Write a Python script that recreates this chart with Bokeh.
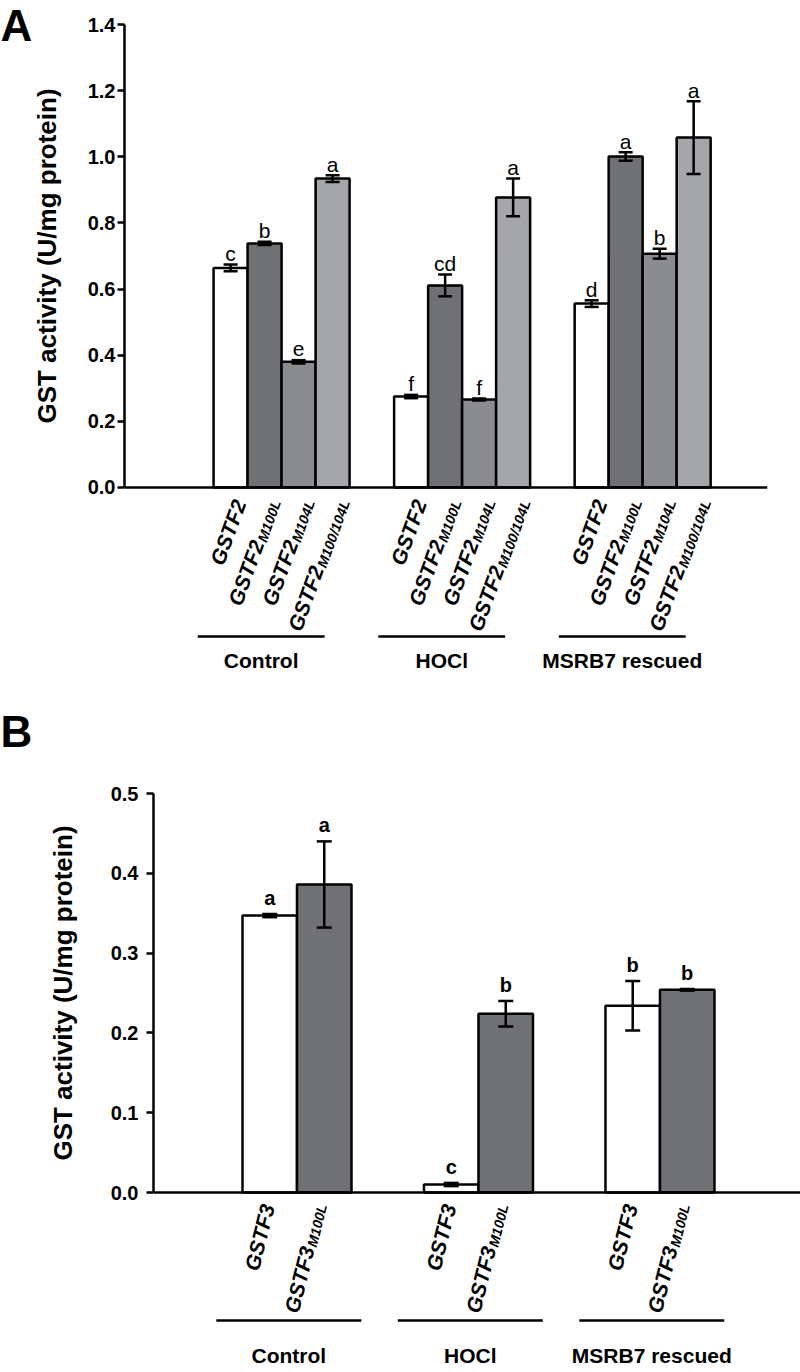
import math
from bokeh.plotting import figure
from bokeh.layouts import column, row
from bokeh.models import FixedTicker, Span, NumeralTickFormatter, Range1d
from bokeh.core.properties import value
from bokeh.embed import file_html
from bokeh.resources import INLINE

# ---------------- data ----------------
groups = ["Control", "HOCl", "MSRB7 rescued"]

# Panel A : GSTF2 variants
a_base = "GSTF2"
a_subscripts = ["", "M100L", "M104L", "M100/104L"]
a_control = [0.664, 0.738, 0.380, 0.934]
a_hocl = [0.275, 0.611, 0.266, 0.877]
a_msrb7 = [0.556, 1.001, 0.707, 1.058]
a_control_err = [0.010, 0.005, 0.005, 0.010]
a_hocl_err = [0.005, 0.033, 0.003, 0.057]
a_msrb7_err = [0.010, 0.013, 0.015, 0.110]
a_control_letters = ["c", "b", "e", "a"]
a_hocl_letters = ["f", "cd", "f", "a"]
a_msrb7_letters = ["d", "a", "b", "a"]
a_yticks = [0.0, 0.2, 0.4, 0.6, 0.8, 1.0, 1.2, 1.4]

# Panel B : GSTF3 variants
b_base = "GSTF3"
b_subscripts = ["", "M100L"]
b_control = [0.347, 0.386]
b_hocl = [0.010, 0.224]
b_msrb7 = [0.234, 0.254]
b_control_err = [0.002, 0.054]
b_hocl_err = [0.002, 0.016]
b_msrb7_err = [0.031, 0.001]
b_control_letters = ["a", "a"]
b_hocl_letters = ["c", "b"]
b_msrb7_letters = ["b", "b"]
b_yticks = [0.0, 0.1, 0.2, 0.3, 0.4, 0.5]

y_title = "GST activity (U/mg protein)"
a_colors = ["#ffffff", "#707175", "#8b8c8f", "#a5a6a9"]
b_colors = ["#ffffff", "#707175"]

FONT = "Liberation Sans"
WIDTHS = {"G": 778, "S": 667, "T": 611, "F": 611, "M": 833, "L": 611, "/": 278}


def text_width(s, size):
    return sum(WIDTHS.get(ch, 556) for ch in s) / 1000.0 * size


def y_range_for(yticks, cfg):
    y_end = yticks[-1] + cfg["top_pad"] / cfg["pxy"]
    return y_end - cfg["frame_h"] / cfg["pxy"], y_end


def side_strip(letter, yticks, cfg):
    y0, y1 = y_range_for(yticks, cfg)
    w = cfg["strip_w"]
    s = figure(frame_width=w, frame_height=cfg["frame_h"], x_range=Range1d(0, w),
               y_range=Range1d(y0, y1), min_border=0,
               x_axis_location=None, y_axis_location=None,
               toolbar_location=None, output_backend="svg")
    s.outline_line_color = None
    s.grid.visible = False
    # panel letter
    s.text(x=[0], y=[y1 - cfg["letter_dy"] / cfg["pxy"]], text=[letter],
           text_align="left", text_baseline="top",
           text_font=value(FONT), text_font_style="bold", text_font_size="44px",
           text_color="black")
    # y-axis title, centred on the axis extent
    s.text(x=[cfg["title_x"]], y=[(yticks[0] + yticks[-1]) / 2.0], text=[y_title],
           angle=math.pi / 2, text_align="center", text_baseline="middle",
           text_font=value(FONT), text_font_style="bold", text_font_size="26px",
           text_color="black")
    return s


def make_panel(vals, errs, lets, colors, base, subs, yticks, cfg):
    pxx, pxy = cfg["pxx"], cfg["pxy"]
    fw, fh = cfg["frame_w"], cfg["frame_h"]
    y0, y1 = y_range_for(yticks, cfg)
    p = figure(frame_width=fw, frame_height=fh,
               min_border_left=cfg["left"], min_border_right=cfg["right"],
               min_border_top=0, min_border_bottom=0,
               x_range=(0, fw / pxx), y_range=(y0, y1),
               x_axis_location=None, toolbar_location=None,
               output_backend="svg")
    p.outline_line_color = None
    p.grid.visible = False

    ax = p.yaxis[0]
    ax.bounds = (yticks[0], yticks[-1])
    ax.ticker = FixedTicker(ticks=yticks)
    ax.formatter = NumeralTickFormatter(format="0.0")
    ax.minor_tick_line_color = None
    ax.major_tick_in = 0
    ax.major_tick_out = cfg["tick_out"]
    ax.axis_line_width = 2.5
    ax.major_tick_line_width = 2.5
    ax.major_label_standoff = cfg["standoff"]
    ax.major_label_text_font = FONT
    ax.major_label_text_font_style = "bold"
    ax.major_label_text_font_size = "20px"
    ax.major_label_text_color = "black"

    p.add_layout(Span(location=0, dimension="width", line_color="black", line_width=2.5))

    n = len(colors)
    theta = math.radians(cfg["angle"])
    d = (math.cos(theta), -math.sin(theta))
    nv = (math.sin(theta), math.cos(theta))
    for g, gname in enumerate(groups):
        start = cfg["g0"] + g * cfg["gstep"]
        centers = [start + i + 0.5 for i in range(n)]
        v, e = vals[g], errs[g]
        p.vbar(x=centers, top=v, bottom=0, width=1, fill_color=colors,
               line_color="black", line_width=2.5)
        lo = [a - b for a, b in zip(v, e)]
        hi = [a + b for a, b in zip(v, e)]
        p.segment(x0=centers, y0=lo, x1=centers, y1=hi, line_color="black", line_width=2.5)
        cap = cfg["cap"] / pxx
        for yy in (lo, hi):
            p.segment(x0=[c - cap for c in centers], y0=yy,
                      x1=[c + cap for c in centers], y1=yy,
                      line_color="black", line_width=2.5)
        p.text(x=centers, y=[h + cfg["let_gap"] / pxy for h in hi], text=lets[g],
               text_align="center", text_baseline="alphabetic",
               text_font=value(FONT), text_font_size=cfg["let_size"],
               text_font_style=cfg["let_style"], text_color="black")
        # rotated category labels with subscripts
        for i, c in enumerate(centers):
            tip_x = c + cfg["tip_dx"][i] / pxx
            tip_y = -cfg["tip_dy"] / pxy
            sub = subs[i]
            if sub:
                p.text(x=[tip_x], y=[tip_y], text=[sub], angle=theta,
                       text_align="right", text_baseline="alphabetic",
                       text_font=value(FONT), text_font_style="bold italic",
                       text_font_size="%dpx" % cfg["sub_px"], text_color="black")
                ws = text_width(sub, cfg["sub_px"]) + 1
                drop = cfg["drop"]
                ox = -ws * d[0] - drop * nv[0]
                oy = -ws * d[1] - drop * nv[1]
                mx, my = tip_x + ox / pxx, tip_y - oy / pxy
            else:
                mx, my = tip_x, tip_y
            p.text(x=[mx], y=[my], text=[base], angle=theta,
                   text_align="right", text_baseline="alphabetic",
                   text_font=value(FONT), text_font_style="bold italic",
                   text_font_size="%dpx" % cfg["main_px"], text_color="black")
        # group underline and name
        mid = start + n / 2.0 + cfg["line_off"]
        half = cfg["line_len"] / 2.0
        ly = -cfg["line_dy"] / pxy
        p.segment(x0=[mid - half], y0=[ly], x1=[mid + half], y1=[ly],
                  line_color="black", line_width=2.5)
        p.text(x=[mid], y=[-cfg["name_dy"] / pxy], text=[gname],
               text_align="center", text_baseline="middle",
               text_font=value(FONT), text_font_style="bold",
               text_font_size="21px", text_color="black")
    return p


cfgA = dict(pxx=34.0, pxy=330.7, frame_w=643, frame_h=700, strip_w=62, left=62, right=33,
            top_pad=24, tick_out=7, standoff=2, g0=2.62, gstep=5.31, cap=7,
            let_gap=11, let_size="21px", let_style="normal",
            angle=70, tip_dx=[9, 12, 12, 13], tip_dy=13, sub_px=14, main_px=21, drop=4,
            line_off=-0.6, line_len=3.73, line_dy=149, name_dy=173,
            title_x=46, letter_dy=0)
cfgB = dict(pxx=54.5, pxy=798.0, frame_w=647, frame_h=672, strip_w=80, left=73, right=0,
            top_pad=93, tick_out=7, standoff=8, g0=1.633, gstep=3.33, cap=7.5,
            let_gap=16, let_size="20px", let_style="bold",
            angle=76, tip_dx=[-2, -2], tip_dy=12, sub_px=14, main_px=21, drop=4,
            line_off=-0.15, line_len=2.66, line_dy=128, name_dy=163,
            title_x=62, letter_dy=6)

pA = make_panel([a_control, a_hocl, a_msrb7], [a_control_err, a_hocl_err, a_msrb7_err],
                [a_control_letters, a_hocl_letters, a_msrb7_letters], a_colors,
                a_base, a_subscripts, a_yticks, cfgA)
pB = make_panel([b_control, b_hocl, b_msrb7], [b_control_err, b_hocl_err, b_msrb7_err],
                [b_control_letters, b_hocl_letters, b_msrb7_letters], b_colors,
                b_base, b_subscripts, b_yticks, cfgB)

sA = side_strip("A", a_yticks, cfgA)
sB = side_strip("B", b_yticks, cfgB)

layout = column(row(sA, pA, spacing=0), row(sB, pB, spacing=0), spacing=0)
open("out.html", "w").write(file_html(layout, INLINE))
